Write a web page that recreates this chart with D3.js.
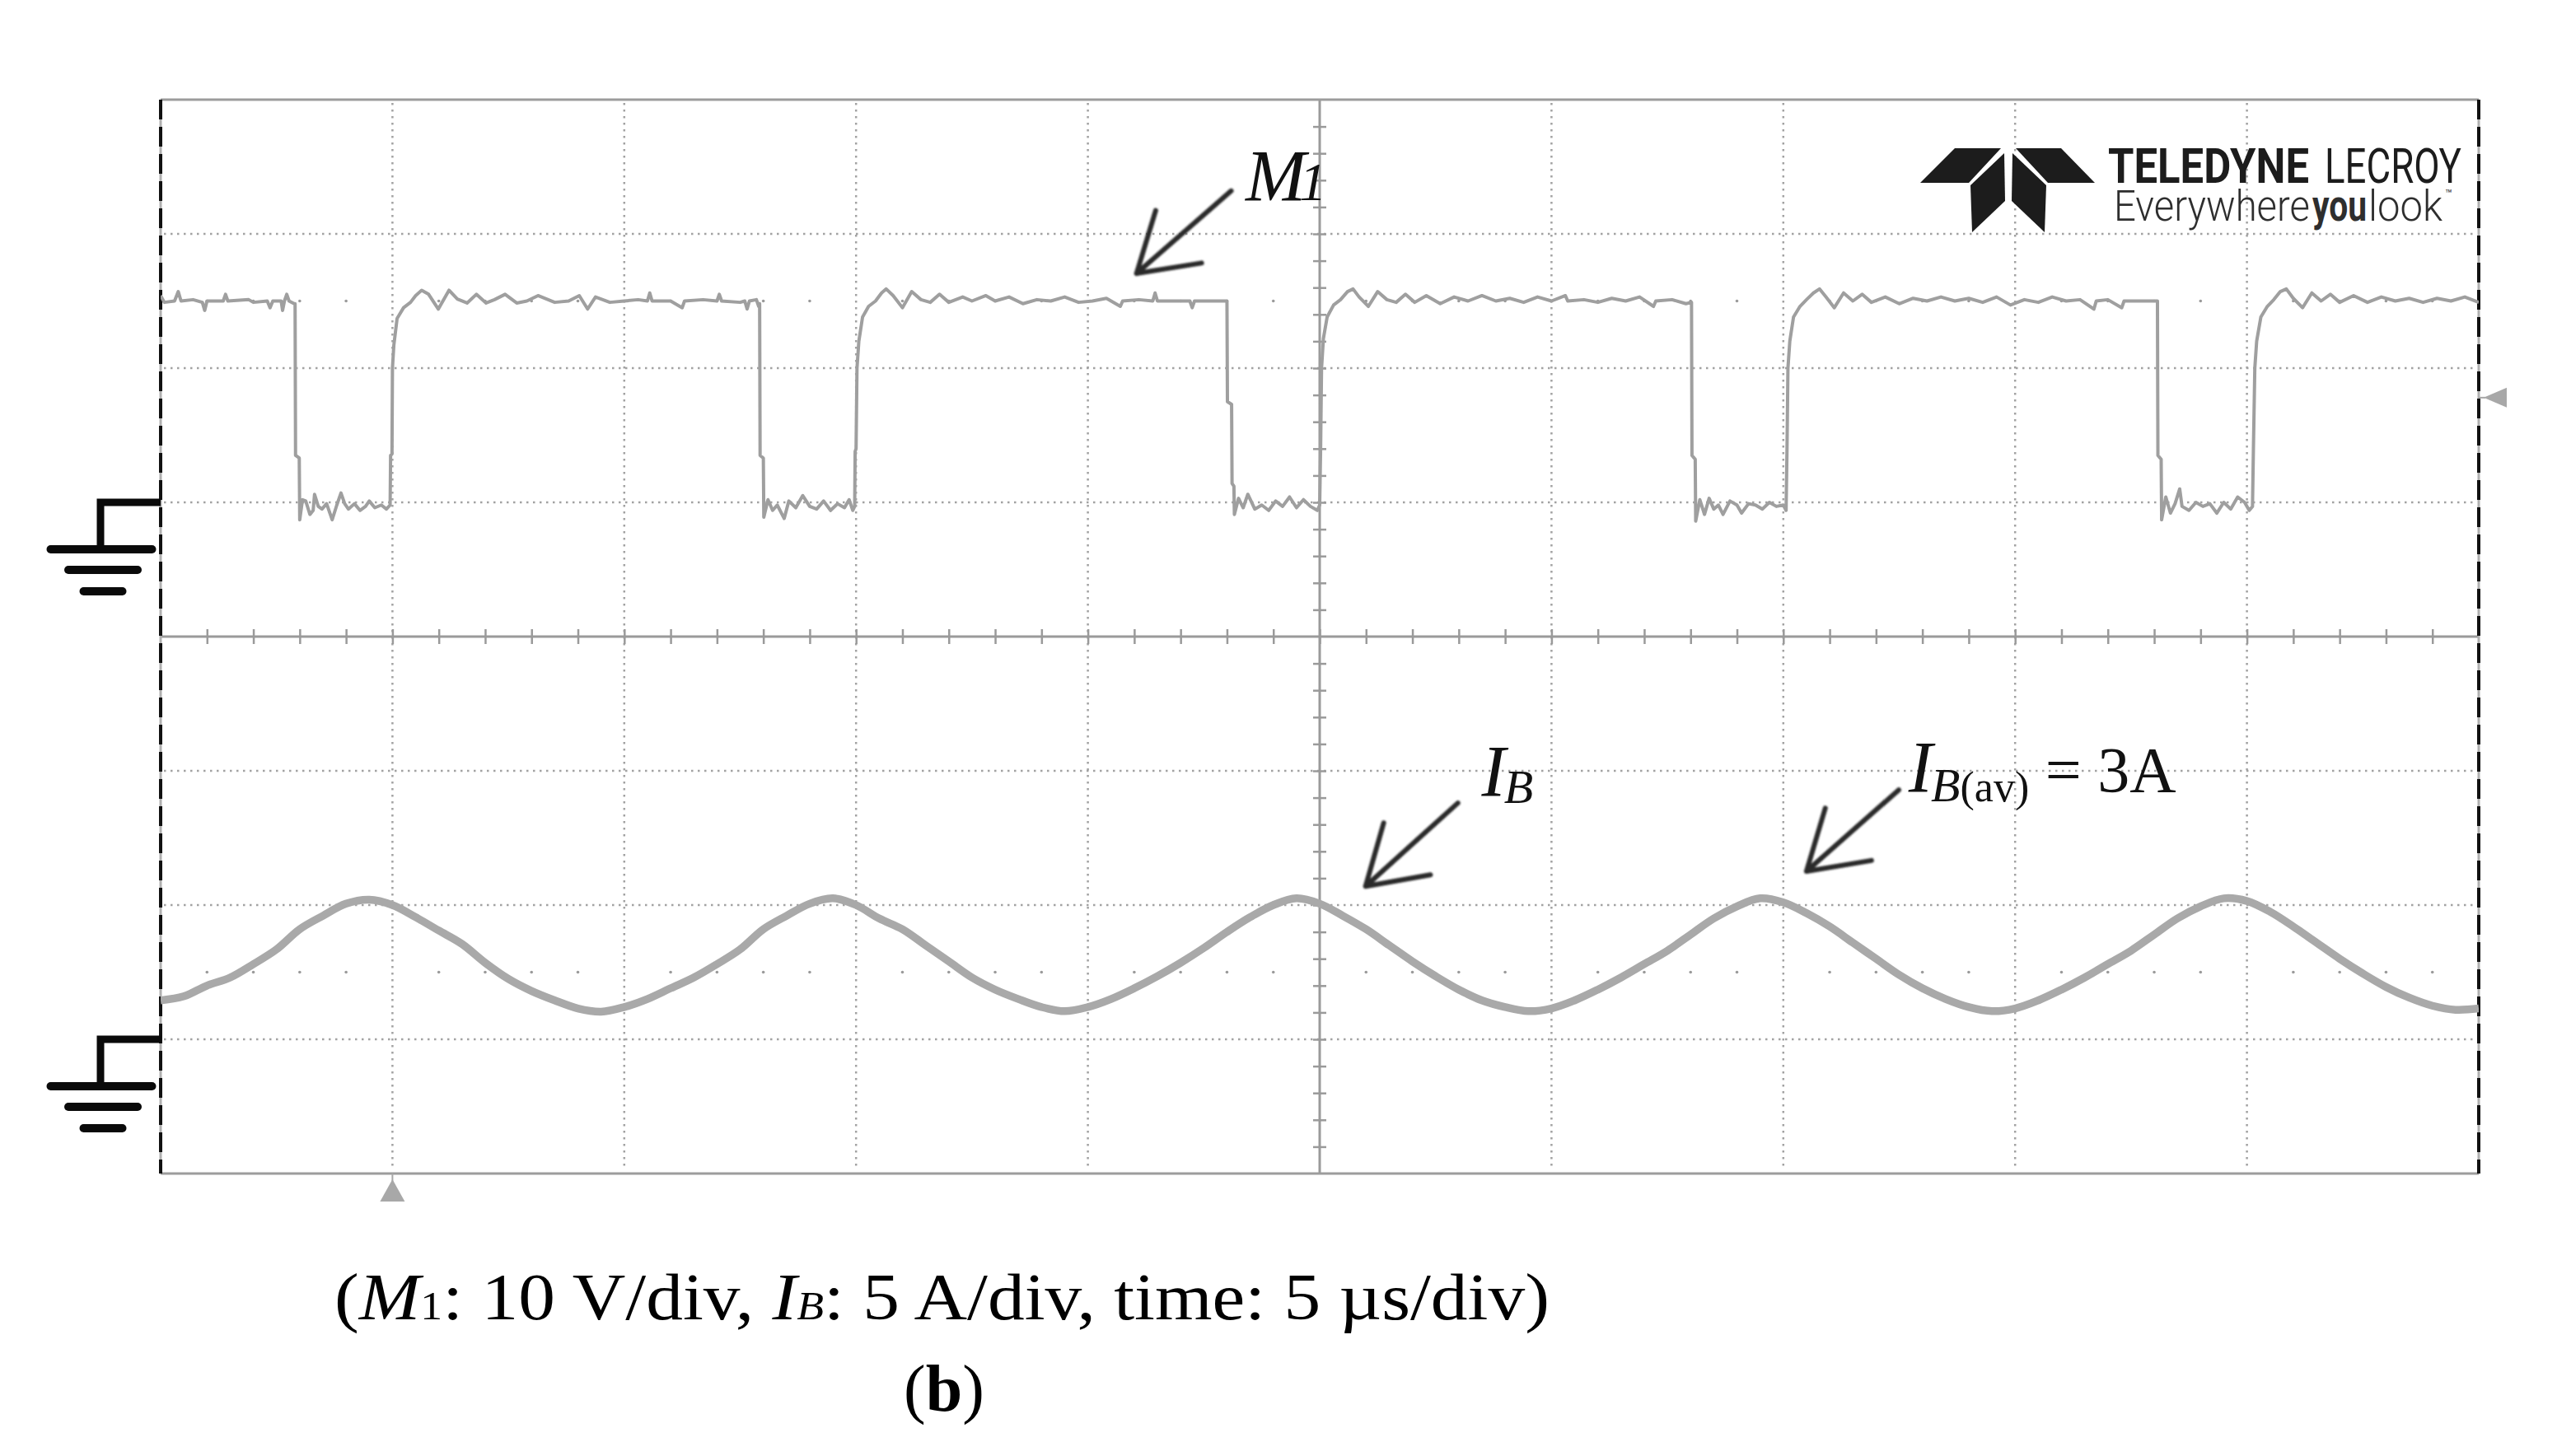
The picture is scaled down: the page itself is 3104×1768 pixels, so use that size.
<!DOCTYPE html>
<html><head><meta charset="utf-8">
<script src="https://cdn.jsdelivr.net/npm/d3@7"></script>
<style>html,body{margin:0;padding:0;background:#fff;} svg{display:block;}</style>
</head><body>
<svg id="c" width="3104" height="1768"></svg>
<script>
// ---------------- data ----------------
// time axis: 5 µs/div, 10 divisions
const gridTimes = [0, 5, 10, 15, 20, 25, 30, 35, 40, 45, 50];   // µs
const gridDivs  = [-4, -3, -2, -1, 0, 1, 2, 3, 4];              // vertical divisions
const triggerTime = 5;      // µs (bottom marker)
const triggerLevel = 7.8;   // V  (right marker, M1)

// M1 : 10 V/div  [time µs, volts]
const m1Trace = [
 [0,15.4],[0.08,14.9],[0.3,15.0],[0.38,15.7],[0.44,15.0],[0.7,15.1],[0.9,14.9],[0.95,14.3],[1.0,15.0],[1.35,15.0],[1.4,15.5],[1.45,15.0],[1.9,15.1],[2.0,14.9],[2.3,15.0],[2.36,14.5],[2.42,15.0],[2.6,15.0],[2.63,14.3],[2.67,15.0],[2.72,15.5],[2.77,15.0],[2.88,14.8],
 [2.90,14.8],[2.91,3.5],[2.99,3.3],[3.00,-1.3],[3.06,0.2],[3.13,0.1],[3.22,-0.9],[3.29,-0.6],[3.32,0.6],[3.40,-0.3],[3.48,-0.5],[3.58,-0.1],[3.70,-1.3],[3.80,-0.2],[3.89,0.7],[3.97,-0.1],[4.05,-0.5],[4.18,-0.1],[4.30,-0.6],[4.42,-0.3],[4.50,0.1],[4.62,-0.4],[4.76,-0.2],[4.87,-0.5],[4.95,-0.2],
 [4.96,3.5],[4.99,3.6],[5.00,10.0],[5.03,11.7],[5.10,13.7],[5.24,14.5],[5.39,14.9],[5.50,15.4],[5.63,15.8],[5.78,15.5],[5.99,14.4],[6.22,15.8],[6.40,15.15],[6.61,14.85],[6.81,15.5],[7.02,14.85],[7.20,15.1],[7.43,15.5],[7.68,14.85],[7.90,15.0],[8.14,15.4],[8.50,14.9],[8.80,15.0],[9.03,15.4],[9.21,14.4],[9.38,15.3],[9.69,14.9],[10.0,15.0],[10.3,15.1],[10.5,15.0],[10.55,15.6],[10.6,15.0],[11.0,15.0],[11.25,14.5],[11.3,15.0],[11.7,15.1],[12.0,15.0],[12.05,15.5],[12.1,15.0],[12.5,14.9],[12.6,15.0],[12.65,14.4],[12.7,15.0],[12.85,15.1],[12.9,14.6],
 [12.92,14.8],[12.93,3.5],[13.0,3.3],[13.01,-1.1],[13.1,0.2],[13.2,-0.6],[13.3,-0.2],[13.45,-1.2],[13.55,0.1],[13.7,-0.4],[13.85,0.5],[14.0,-0.3],[14.15,-0.5],[14.3,0.1],[14.45,-0.6],[14.6,-0.1],[14.75,-0.4],[14.85,0.2],[14.93,-0.6],[14.97,-0.3],
 [14.98,3.8],[15.0,4.0],[15.02,10.0],[15.06,12.0],[15.14,13.8],[15.27,14.6],[15.42,15.0],[15.55,15.6],[15.65,15.9],[15.8,15.4],[16.0,14.5],[16.2,15.7],[16.4,15.1],[16.6,14.9],[16.8,15.5],[17.0,14.9],[17.3,15.3],[17.5,15.0],[17.8,15.4],[18.0,15.0],[18.3,15.3],[18.6,14.8],[18.9,15.1],[19.2,15.0],[19.5,15.3],[19.8,14.9],[20.1,15.0],[20.4,15.2],[20.7,14.6],[20.75,15.0],[21.1,15.1],[21.4,15.0],[21.45,15.6],[21.5,15.0],[21.9,15.0],[22.2,15.0],[22.25,14.5],[22.3,15.0],[22.6,15.0],[22.9,15.0],
 [23.0,15.0],[23.01,7.5],[23.1,7.3],[23.11,1.4],[23.15,1.2],[23.16,-0.9],[23.25,0.3],[23.35,-0.4],[23.45,0.6],[23.6,-0.5],[23.75,-0.2],[23.9,-0.6],[24.05,0.1],[24.2,-0.3],[24.35,0.4],[24.5,-0.4],[24.65,0.2],[24.8,-0.3],[24.95,-0.6],[25.0,-0.2],
 [25.02,4.0],[25.04,10.0],[25.08,12.2],[25.16,13.8],[25.3,14.7],[25.45,15.1],[25.6,15.7],[25.72,15.9],[25.85,15.3],[26.05,14.6],[26.25,15.7],[26.45,15.1],[26.65,14.9],[26.85,15.5],[27.05,14.9],[27.3,15.4],[27.6,14.8],[27.9,15.3],[28.2,15.0],[28.5,15.4],[28.8,15.0],[29.1,15.2],[29.4,14.9],[29.7,15.3],[30.0,15.0],[30.3,15.4],[30.35,15.0],[30.7,15.1],[31.0,14.9],[31.3,15.2],[31.6,15.0],[31.9,15.3],[32.2,14.6],[32.25,15.0],[32.6,15.1],[32.9,14.8],
 [33.02,14.9],[33.03,3.5],[33.1,3.2],[33.11,-1.4],[33.2,0.2],[33.3,-0.9],[33.4,0.3],[33.5,-0.5],[33.6,-0.2],[33.7,-0.9],[33.85,0.1],[34.0,-0.2],[34.1,-0.8],[34.25,-0.1],[34.4,-0.2],[34.55,-0.5],[34.7,0.0],[34.85,-0.3],[35.0,-0.2],[35.06,-0.6],
 [35.08,4.0],[35.1,10.0],[35.14,12.0],[35.22,13.8],[35.36,14.6],[35.5,15.1],[35.65,15.6],[35.78,15.9],[35.92,15.3],[36.1,14.5],[36.3,15.6],[36.5,15.0],[36.7,15.5],[36.9,14.9],[37.2,15.3],[37.5,14.8],[37.8,15.2],[38.1,15.0],[38.4,15.3],[38.7,15.0],[39.0,15.2],[39.3,14.9],[39.6,15.3],[39.9,14.7],[40.2,15.1],[40.5,14.9],[40.8,15.3],[41.1,15.0],[41.4,15.1],[41.7,14.4],[41.75,15.0],[42.0,15.1],[42.3,14.5],[42.35,15.0],[42.7,15.0],[43.0,15.0],
 [43.07,15.0],[43.08,3.5],[43.15,3.2],[43.16,-1.3],[43.25,0.4],[43.35,-0.8],[43.45,-0.1],[43.55,1.0],[43.6,-0.3],[43.75,-0.6],[43.9,0.0],[44.05,-0.3],[44.2,-0.1],[44.35,-0.8],[44.5,0.0],[44.65,-0.5],[44.8,0.4],[44.95,0.0],[45.05,-0.6],[45.12,-0.3],
 [45.14,4.0],[45.17,10.0],[45.21,12.0],[45.3,13.8],[45.44,14.6],[45.58,15.1],[45.72,15.7],[45.85,15.9],[46.0,15.2],[46.2,14.5],[46.4,15.6],[46.6,15.0],[46.8,15.5],[47.0,14.9],[47.3,15.4],[47.6,14.9],[47.9,15.3],[48.2,15.0],[48.5,15.2],[48.8,14.9],[49.1,15.2],[49.4,15.0],[49.7,15.3],[50.0,14.9]
];

// IB : 5 A/div  [time µs, amps]
const ibTrace = [
 [0,1.45],[0.5,1.6],[1.0,2.0],[1.5,2.3],[2.0,2.8],[2.5,3.35],[3.0,4.1],[3.5,4.6],[4.0,5.05],[4.5,5.2],[5.0,5.0],[5.5,4.55],[6.0,4.05],[6.5,3.55],[7.0,2.85],[7.5,2.25],[8.0,1.8],[8.5,1.45],[9.0,1.15],[9.5,1.03],
 [10.0,1.2],[10.5,1.5],[11.0,1.9],[11.5,2.3],[12.0,2.8],[12.5,3.35],[13.0,4.1],[13.5,4.6],[14.0,5.05],[14.5,5.25],[15.0,5.0],[15.5,4.5],[16.0,4.1],[16.5,3.5],[17.0,2.9],[17.5,2.3],[18.0,1.85],[18.5,1.5],[19.0,1.2],[19.5,1.05],
 [20.0,1.2],[20.5,1.5],[21.0,1.9],[21.5,2.35],[22.0,2.85],[22.5,3.4],[23.0,4.0],[23.5,4.55],[24.0,5.0],[24.5,5.25],[25.0,5.05],[25.5,4.6],[26.0,4.1],[26.5,3.5],[27.0,2.9],[27.5,2.35],[28.0,1.85],[28.5,1.45],[29.0,1.2],[29.5,1.05],
 [30.0,1.15],[30.5,1.45],[31.0,1.85],[31.5,2.3],[32.0,2.8],[32.5,3.3],[33.0,3.9],[33.5,4.5],[34.0,4.95],[34.5,5.25],[35.0,5.1],[35.5,4.7],[36.0,4.2],[36.5,3.6],[37.0,3.0],[37.5,2.4],[38.0,1.9],[38.5,1.5],[39.0,1.2],[39.5,1.05],
 [40.0,1.15],[40.5,1.45],[41.0,1.85],[41.5,2.3],[42.0,2.8],[42.5,3.3],[43.0,3.9],[43.5,4.5],[44.0,4.95],[44.5,5.25],[45.0,5.15],[45.5,4.75],[46.0,4.2],[46.5,3.6],[47.0,3.0],[47.5,2.45],[48.0,1.95],[48.5,1.55],[49.0,1.25],[49.5,1.1],[50.0,1.15]
];

// annotation anchors in data units
const m1Arrow = {tip: [21.05, 17.05], tail: [23.09, 23.2], text: [23.4, 22.5]};
const ibArrow = {tip: [25.99, 5.7], tail: [27.98, 8.8], text: [28.49, 9.08]};
const ibAvArrow = {tip: [35.5, 6.26], tail: [37.49, 9.29], text: [37.7, 9.23]};

// ---------------- layout ----------------
const svg = d3.select("#c");
const L = 195, R = 3009, T = 121, B = 1425;
const x = d3.scaleLinear().domain([0, 50]).range([L, R]);
const yDiv = d3.scaleLinear().domain([-4, 4]).range([B, T]);
const yM1 = d3.scaleLinear().domain([-50, 30]).range([B, T]);
const yIB = d3.scaleLinear().domain([-5, 35]).range([B, T]);
const gridCol = "#a2a2a2";

svg.append("rect").attr("width", 3104).attr("height", 1768).attr("fill", "#fff");

const defs = svg.append("defs");
defs.append("clipPath").attr("id", "plot").append("rect")
  .attr("x", L).attr("y", T).attr("width", R - L).attr("height", B - T);
defs.append("filter").attr("id", "soft").append("feGaussianBlur").attr("stdDeviation", 1.3);

// dotted grid
const g = svg.append("g");
g.selectAll(".vg").data(gridTimes.filter(t => t !== 0 && t !== 25 && t !== 50)).join("line")
  .attr("x1", d => x(d)).attr("x2", d => x(d)).attr("y1", T + 4).attr("y2", B - 4)
  .attr("stroke", gridCol).attr("stroke-width", 2.5).attr("stroke-dasharray", "2.5 5.5");
g.selectAll(".hg").data(gridDivs.filter(d => d !== -4 && d !== 0 && d !== 4)).join("line")
  .attr("y1", d => yDiv(d)).attr("y2", d => yDiv(d)).attr("x1", L + 4).attr("x2", R - 4)
  .attr("stroke", gridCol).attr("stroke-width", 2.5).attr("stroke-dasharray", "2.5 5.5");

// faint half-division dot rows
const minorT = d3.range(1, 50, 1).filter(t => t % 5 !== 0);
[2.5, -2.5].forEach(r => {
  g.selectAll(null).data(minorT).join("circle")
    .attr("cx", d => x(d)).attr("cy", yDiv(r)).attr("r", 1.8).attr("fill", "#9a9a9a");
});

// centre axes with minor ticks
g.append("line").attr("x1", L).attr("x2", R).attr("y1", yDiv(0)).attr("y2", yDiv(0))
  .attr("stroke", "#9a9a9a").attr("stroke-width", 3);
g.append("line").attr("x1", x(25)).attr("x2", x(25)).attr("y1", T).attr("y2", B)
  .attr("stroke", "#9a9a9a").attr("stroke-width", 3);
const ax = g.append("g").attr("transform", `translate(0,${yDiv(0) - 9})`)
  .call(d3.axisBottom(x).tickValues(d3.range(1, 50, 1)).tickSize(18).tickFormat(""));
ax.select(".domain").remove();
ax.selectAll("line").attr("stroke", "#9a9a9a").attr("stroke-width", 2.5);
const ay = g.append("g").attr("transform", `translate(${x(25) - 8},0)`)
  .call(d3.axisRight(yDiv).tickValues(d3.range(-3.8, 3.81, 0.2).filter(v => Math.abs(v) > 0.05)).tickSize(16).tickFormat(""));
ay.select(".domain").remove();
ay.selectAll("line").attr("stroke", "#9a9a9a").attr("stroke-width", 2.5);

// frame
g.append("line").attr("x1", L).attr("x2", R).attr("y1", T).attr("y2", T).attr("stroke", "#9c9c9c").attr("stroke-width", 3);
g.append("line").attr("x1", L).attr("x2", R).attr("y1", B).attr("y2", B).attr("stroke", "#9c9c9c").attr("stroke-width", 3);
[L, R].forEach(xx => {
  g.append("line").attr("x1", xx).attr("x2", xx).attr("y1", T).attr("y2", B).attr("stroke", "#b0b0b0").attr("stroke-width", 3);
  g.append("line").attr("x1", xx).attr("x2", xx).attr("y1", T).attr("y2", B)
    .attr("stroke", "#111").attr("stroke-width", 4).attr("stroke-dasharray", "24 9");
});

// traces
const tr = svg.append("g").attr("clip-path", "url(#plot)");
tr.append("path").datum(ibTrace)
  .attr("d", d3.line().x(d => x(d[0])).y(d => yIB(d[1])).curve(d3.curveCatmullRom))
  .attr("fill", "none").attr("stroke", "#a9a9a9").attr("stroke-width", 9.5).attr("stroke-linejoin", "round");
tr.append("path").datum(m1Trace)
  .attr("d", d3.line().x(d => x(d[0])).y(d => yM1(d[1])))
  .attr("fill", "none").attr("stroke", "#9f9f9f").attr("stroke-width", 4).attr("stroke-linejoin", "round");

// ground symbols
function ground(y0) {
  const gg = svg.append("g").attr("stroke", "#0a0a0a").attr("fill", "none");
  gg.append("path").attr("d", `M${L},${y0} H122 V${y0 + 57}`).attr("stroke-width", 9);
  [[123, 123, 57], [125, 84, 82], [125, 47, 108]].forEach(([cx, w, dy]) => {
    gg.append("line").attr("x1", cx - w / 2).attr("x2", cx + w / 2).attr("y1", y0 + dy).attr("y2", y0 + dy)
      .attr("stroke-width", 10).attr("stroke-linecap", "round");
  });
}
ground(yM1(0));
ground(yIB(0));

// trigger markers
svg.append("line").attr("x1", x(triggerTime)).attr("x2", x(triggerTime)).attr("y1", B).attr("y2", B + 12)
  .attr("stroke", "#a8a8a8").attr("stroke-width", 2);
svg.append("path").attr("fill", "#a8a8a8")
  .attr("d", `M${x(triggerTime)},${B + 7} L${x(triggerTime) + 15},${B + 34} L${x(triggerTime) - 15},${B + 34} Z`);
svg.append("path").attr("fill", "#a8a8a8")
  .attr("d", `M${R + 6},${yM1(triggerLevel)} L${R + 34},${yM1(triggerLevel) - 12} L${R + 34},${yM1(triggerLevel) + 12} Z`);
svg.append("line").attr("x1", R).attr("x2", R + 8).attr("y1", yM1(triggerLevel)).attr("y2", yM1(triggerLevel))
  .attr("stroke", "#a8a8a8").attr("stroke-width", 2);

// arrows
function arrow(tip, tail) {
  const a = Math.atan2(tail[1] - tip[1], tail[0] - tip[0]);
  const len = 80, half = 32 * Math.PI / 180;
  const b1 = [tip[0] + len * Math.cos(a - half), tip[1] + len * Math.sin(a - half)];
  const b2 = [tip[0] + len * Math.cos(a + half), tip[1] + len * Math.sin(a + half)];
  svg.append("path")
    .attr("d", `M${tail[0]},${tail[1]} L${tip[0]},${tip[1]} M${b1[0]},${b1[1]} L${tip[0]},${tip[1]} L${b2[0]},${b2[1]}`)
    .attr("fill", "none").attr("stroke", "#2a2a2a").attr("stroke-width", 6)
    .attr("stroke-linecap", "round").attr("stroke-linejoin", "round").attr("filter", "url(#soft)");
}
arrow([x(m1Arrow.tip[0]), yM1(m1Arrow.tip[1])], [x(m1Arrow.tail[0]), yM1(m1Arrow.tail[1])]);
arrow([x(ibArrow.tip[0]), yIB(ibArrow.tip[1])], [x(ibArrow.tail[0]), yIB(ibArrow.tail[1])]);
arrow([x(ibAvArrow.tip[0]), yIB(ibAvArrow.tip[1])], [x(ibAvArrow.tail[0]), yIB(ibAvArrow.tail[1])]);

const serif = "'Liberation Serif','Times New Roman',serif";
// M1 label
const tM = svg.append("text").attr("x", x(m1Arrow.text[0])).attr("y", yM1(m1Arrow.text[1]))
  .attr("font-family", serif).attr("font-style", "italic").attr("font-size", 88).attr("fill", "#111");
tM.append("tspan").text("M");
tM.append("tspan").attr("font-size", 66).attr("dx", -8).text("1");
// IB label
const tI = svg.append("text").attr("x", x(ibArrow.text[0])).attr("y", yIB(ibArrow.text[1]))
  .attr("font-family", serif).attr("font-style", "italic").attr("font-size", 88).attr("fill", "#111");
tI.append("tspan").text("I");
tI.append("tspan").attr("font-size", 58).attr("dy", 9).attr("dx", -2).text("B");
// IB(av) label
const tA = svg.append("text").attr("x", x(ibAvArrow.text[0])).attr("y", yIB(ibAvArrow.text[1]))
  .attr("font-family", serif).attr("font-size", 88).attr("fill", "#111");
tA.append("tspan").attr("font-style", "italic").text("I");
tA.append("tspan").attr("font-style", "italic").attr("font-size", 58).attr("dy", 12).attr("dx", -2).text("B");
tA.append("tspan").attr("font-size", 52).text("(av)");
tA.append("tspan").attr("font-size", 78).attr("dy", -12).text(" = 3A");

// logo (Teledyne LeCroy mark)
const logo = svg.append("g").attr("fill", "#1c1c1c");
[
  [[2331, 222], [2373, 180], [2429, 180], [2390, 222]],
  [[2447, 180], [2502, 180], [2543, 222], [2486, 222]],
  [[2392, 225], [2433, 186], [2434, 244], [2394, 282]],
  [[2484, 225], [2443, 186], [2442, 244], [2482, 282]]
].forEach(p => logo.append("polygon").attr("points", p.map(q => q.join(",")).join(" ")));
const sans = "Roboto, 'Liberation Sans', sans-serif";
svg.append("text").attr("x", 2559).attr("y", 222).attr("font-family", sans)
  .attr("font-weight", 700).attr("font-size", 59).attr("fill", "#1c1c1c")
  .attr("textLength", 244).attr("lengthAdjust", "spacingAndGlyphs").text("TELEDYNE");
svg.append("text").attr("x", 2822).attr("y", 222).attr("font-family", sans)
  .attr("font-weight", 400).attr("font-size", 59).attr("fill", "#1c1c1c")
  .attr("textLength", 166).attr("lengthAdjust", "spacingAndGlyphs").text("LECROY");
svg.append("text").attr("x", 2566).attr("y", 268).attr("font-family", sans)
  .attr("font-weight", 300).attr("font-size", 51).attr("fill", "#2e2e2e")
  .attr("textLength", 238).attr("lengthAdjust", "spacingAndGlyphs").text("Everywhere");
svg.append("text").attr("x", 2807).attr("y", 268).attr("font-family", sans)
  .attr("font-weight", 700).attr("font-size", 51).attr("fill", "#2e2e2e")
  .attr("textLength", 66).attr("lengthAdjust", "spacingAndGlyphs").text("you");
svg.append("text").attr("x", 2875).attr("y", 268).attr("font-family", sans)
  .attr("font-weight", 300).attr("font-size", 51).attr("fill", "#2e2e2e")
  .attr("textLength", 90).attr("lengthAdjust", "spacingAndGlyphs").text("look");
svg.append("text").attr("x", 2968).attr("y", 240).attr("font-family", sans)
  .attr("font-size", 14).attr("fill", "#2e2e2e").text("™");

// caption
const cap = svg.append("text").attr("x", 406).attr("y", 1602).attr("font-family", serif)
  .attr("font-size", 80).attr("fill", "#000").attr("textLength", 1475).attr("lengthAdjust", "spacingAndGlyphs");
cap.append("tspan").text("(");
cap.append("tspan").attr("font-style", "italic").text("M");
cap.append("tspan").attr("font-size", 48).text("1");
cap.append("tspan").text(": 10 V/div, ");
cap.append("tspan").attr("font-style", "italic").text("I");
cap.append("tspan").attr("font-style", "italic").attr("font-size", 48).text("B");
cap.append("tspan").text(": 5 A/div, time: 5 µs/div)");
const capB = svg.append("text").attr("x", 1146).attr("y", 1713).attr("text-anchor", "middle")
  .attr("font-family", serif).attr("font-size", 80).attr("fill", "#000");
capB.append("tspan").text("(");
capB.append("tspan").attr("font-weight", 700).text("b");
capB.append("tspan").text(")");
</script>
</body></html>
